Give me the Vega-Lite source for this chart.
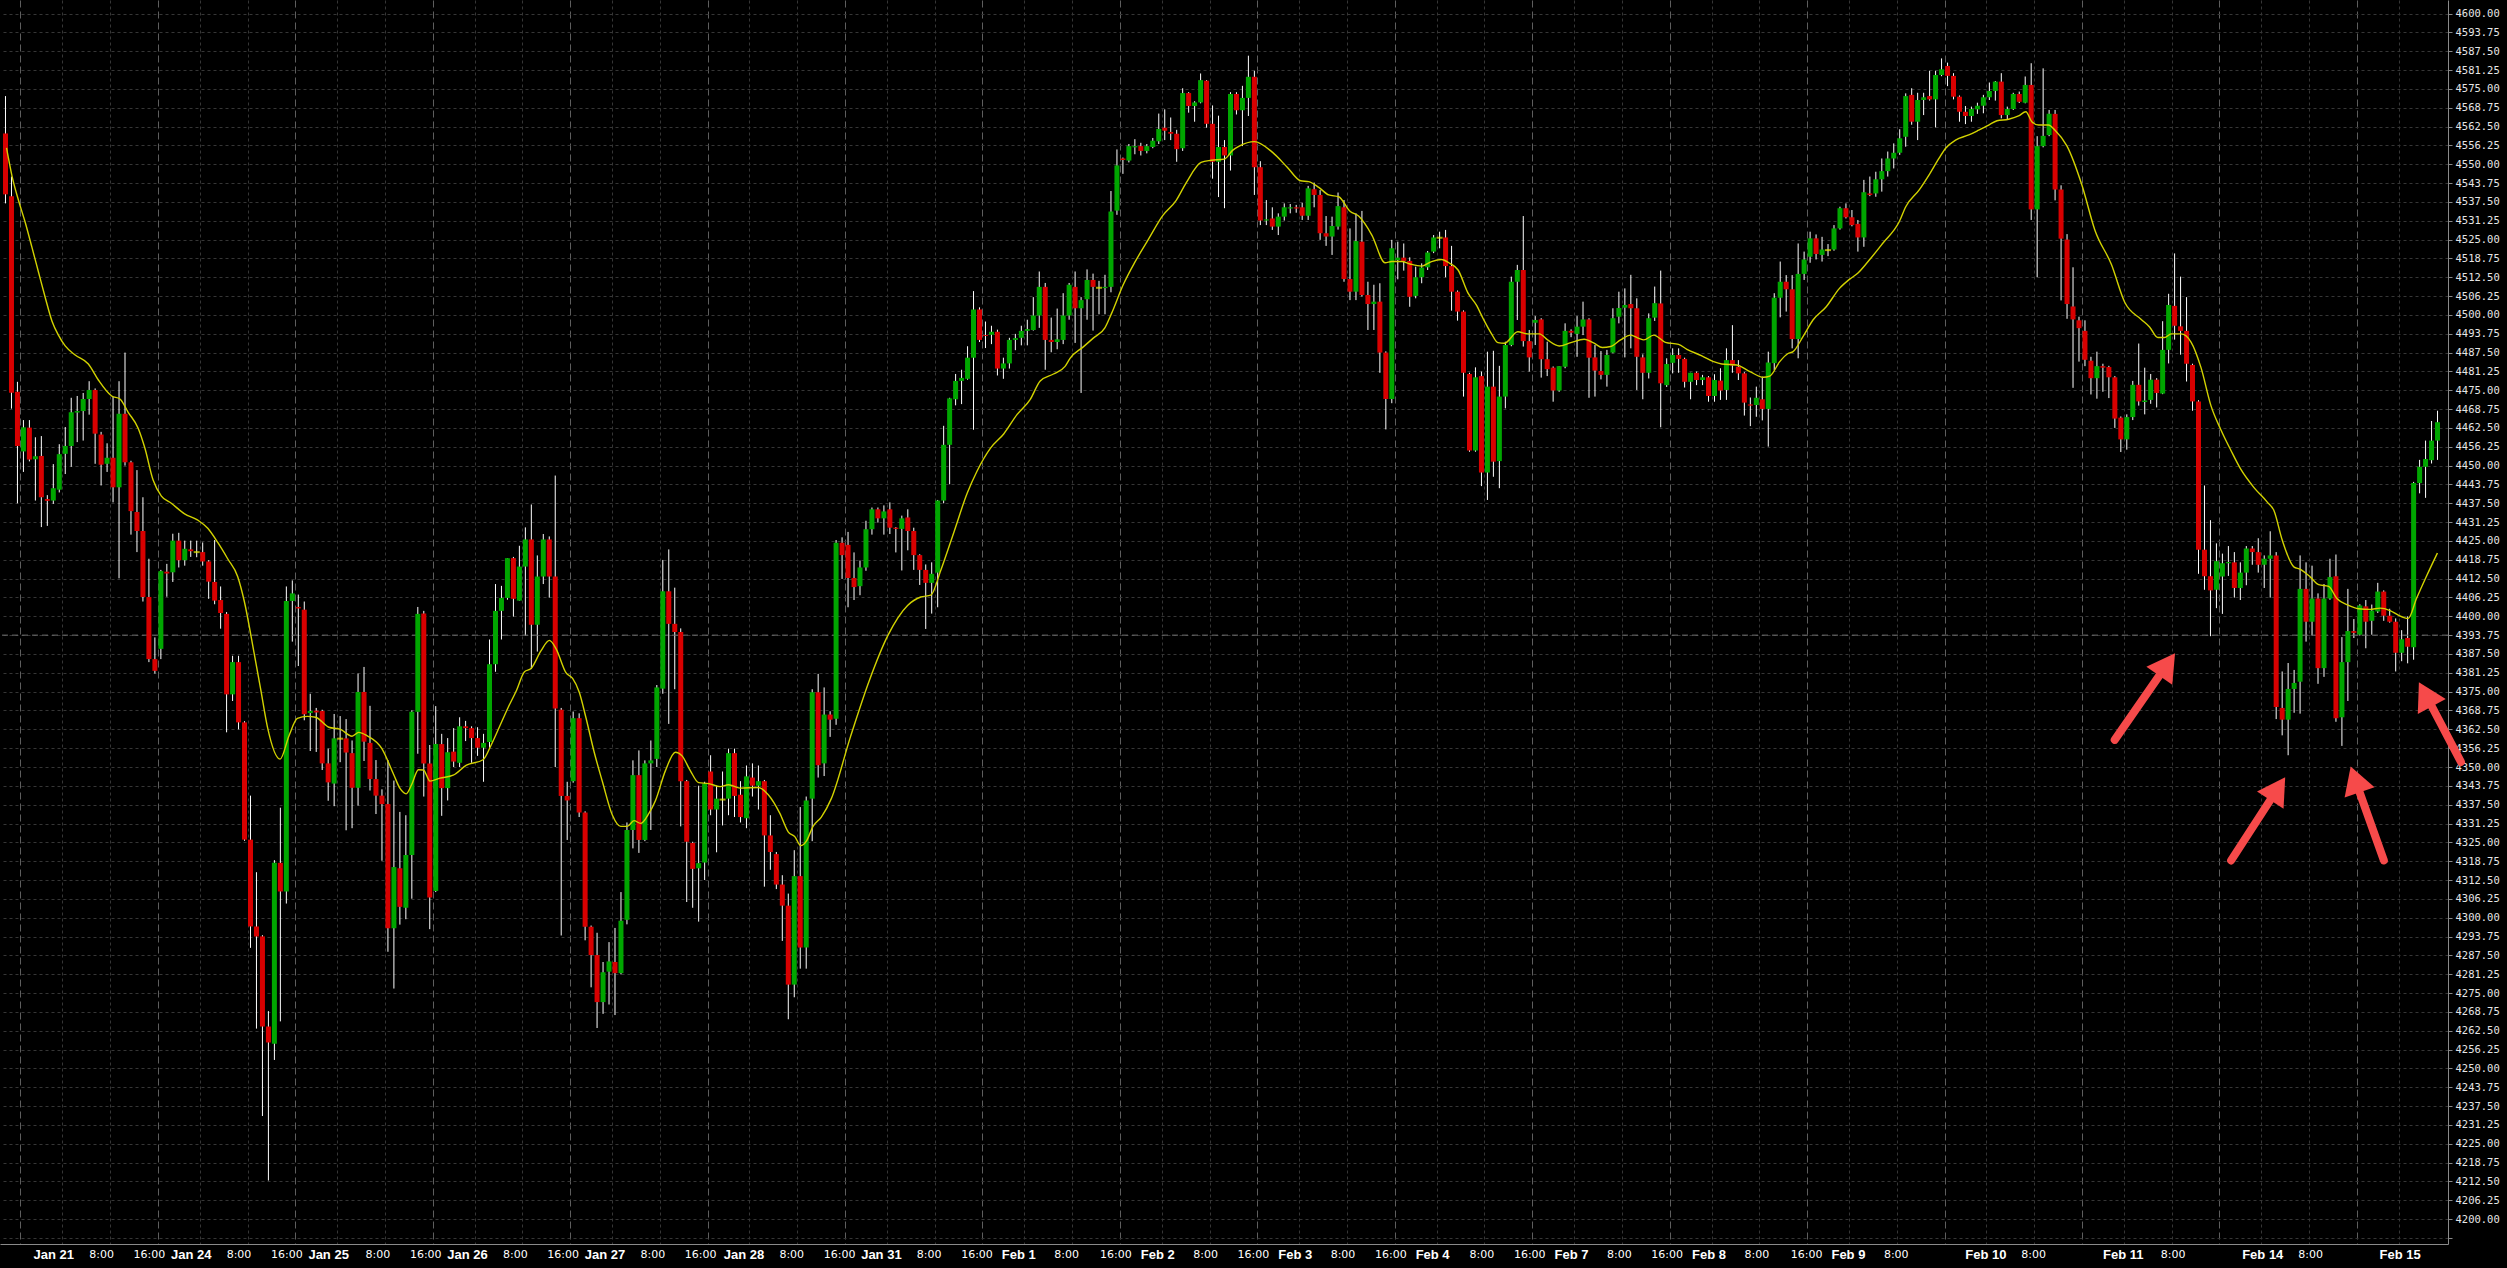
{
"$schema":"https://vega.github.io/schema/vega-lite/v6.json",
"width":2448,"height":1244,
"autosize":{"type":"none"},
"padding":{"left":0,"top":0,"right":59,"bottom":24},
"background":"#000000",
"config":{"view":{"stroke":null}},
"resolve":{"axis":{"x":"independent","y":"independent"}},
"datasets":{
"c":[
{"i":0,"o":4560.2,"h":4572.6,"l":4537.0,"c":4540.0},
{"i":1,"o":4539.4,"h":4545.9,"l":4468.9,"c":4474.2},
{"i":2,"o":4474.5,"h":4477.8,"l":4437.5,"c":4456.5},
{"i":3,"o":4454.7,"h":4465.1,"l":4447.9,"c":4462.7},
{"i":4,"o":4462.6,"h":4465.1,"l":4451.4,"c":4452.0},
{"i":5,"o":4452.1,"h":4459.4,"l":4438.4,"c":4453.1},
{"i":6,"o":4453.2,"h":4459.8,"l":4429.6,"c":4439.5},
{"i":7,"o":4438.9,"h":4440.2,"l":4430.0,"c":4438.3},
{"i":8,"o":4438.4,"h":4450.5,"l":4437.3,"c":4442.5},
{"i":9,"o":4442.0,"h":4457.1,"l":4441.1,"c":4453.8},
{"i":10,"o":4453.9,"h":4462.8,"l":4447.2,"c":4456.5},
{"i":11,"o":4456.5,"h":4472.5,"l":4449.6,"c":4467.7},
{"i":12,"o":4467.6,"h":4473.1,"l":4457.8,"c":4468.1},
{"i":13,"o":4468.1,"h":4474.1,"l":4458.3,"c":4472.1},
{"i":14,"o":4472.1,"h":4478.0,"l":4466.9,"c":4475.1},
{"i":15,"o":4475.1,"h":4475.6,"l":4450.6,"c":4460.6},
{"i":16,"o":4460.3,"h":4461.2,"l":4443.4,"c":4450.3},
{"i":17,"o":4450.6,"h":4457.4,"l":4447.9,"c":4452.6},
{"i":18,"o":4452.6,"h":4472.8,"l":4437.8,"c":4442.8},
{"i":19,"o":4442.8,"h":4478.0,"l":4412.6,"c":4467.2},
{"i":20,"o":4467.2,"h":4487.5,"l":4450.0,"c":4451.1},
{"i":21,"o":4451.1,"h":4451.6,"l":4427.1,"c":4434.9},
{"i":22,"o":4434.6,"h":4448.5,"l":4421.3,"c":4428.3},
{"i":23,"o":4428.3,"h":4439.5,"l":4404.9,"c":4406.4},
{"i":24,"o":4406.4,"h":4419.1,"l":4384.8,"c":4385.8},
{"i":25,"o":4385.8,"h":4393.0,"l":4381.0,"c":4381.9},
{"i":26,"o":4389.2,"h":4415.4,"l":4385.8,"c":4415.0},
{"i":27,"o":4414.8,"h":4417.4,"l":4406.5,"c":4414.2},
{"i":28,"o":4414.6,"h":4427.4,"l":4411.4,"c":4425.1},
{"i":29,"o":4425.1,"h":4427.7,"l":4416.2,"c":4418.6},
{"i":30,"o":4418.6,"h":4425.1,"l":4416.8,"c":4422.4},
{"i":31,"o":4422.2,"h":4425.1,"l":4419.7,"c":4421.6},
{"i":32,"o":4421.3,"h":4425.1,"l":4419.6,"c":4421.3},
{"i":33,"o":4421.3,"h":4424.5,"l":4416.8,"c":4418.2},
{"i":34,"o":4418.2,"h":4418.6,"l":4405.8,"c":4411.5},
{"i":35,"o":4411.4,"h":4425.3,"l":4404.0,"c":4405.2},
{"i":36,"o":4405.4,"h":4409.9,"l":4395.9,"c":4401.1},
{"i":37,"o":4400.8,"h":4401.4,"l":4361.5,"c":4374.1},
{"i":38,"o":4374.1,"h":4386.9,"l":4371.9,"c":4384.8},
{"i":39,"o":4384.8,"h":4386.9,"l":4362.5,"c":4364.8},
{"i":40,"o":4364.8,"h":4365.2,"l":4325.5,"c":4325.9},
{"i":41,"o":4325.9,"h":4340.5,"l":4290.0,"c":4297.1},
{"i":42,"o":4297.1,"h":4315.1,"l":4263.2,"c":4293.8},
{"i":43,"o":4293.8,"h":4294.2,"l":4234.2,"c":4263.9},
{"i":44,"o":4263.9,"h":4269.0,"l":4212.8,"c":4258.6},
{"i":45,"o":4258.2,"h":4319.1,"l":4252.8,"c":4318.2},
{"i":46,"o":4318.2,"h":4336.5,"l":4265.6,"c":4308.7},
{"i":47,"o":4308.7,"h":4409.9,"l":4304.7,"c":4405.1},
{"i":48,"o":4405.1,"h":4411.9,"l":4391.6,"c":4407.6},
{"i":49,"o":4403.1,"h":4407.2,"l":4383.5,"c":4402.6},
{"i":50,"o":4402.2,"h":4404.9,"l":4365.5,"c":4367.5},
{"i":51,"o":4367.9,"h":4374.3,"l":4355.3,"c":4368.6},
{"i":52,"o":4368.7,"h":4369.6,"l":4355.0,"c":4368.1},
{"i":53,"o":4368.6,"h":4369.0,"l":4349.0,"c":4351.2},
{"i":54,"o":4351.2,"h":4356.1,"l":4338.8,"c":4344.9},
{"i":55,"o":4344.5,"h":4367.6,"l":4337.0,"c":4359.5},
{"i":56,"o":4359.4,"h":4366.9,"l":4351.6,"c":4359.4},
{"i":57,"o":4359.5,"h":4365.9,"l":4329.0,"c":4354.8},
{"i":58,"o":4354.6,"h":4358.8,"l":4329.7,"c":4343.1},
{"i":59,"o":4343.1,"h":4381.0,"l":4337.2,"c":4374.9},
{"i":60,"o":4374.9,"h":4383.2,"l":4352.0,"c":4358.4},
{"i":61,"o":4358.0,"h":4370.3,"l":4342.2,"c":4346.0},
{"i":62,"o":4346.0,"h":4352.3,"l":4334.4,"c":4340.5},
{"i":63,"o":4340.5,"h":4342.6,"l":4318.9,"c":4337.7},
{"i":64,"o":4337.7,"h":4352.3,"l":4288.7,"c":4296.5},
{"i":65,"o":4296.5,"h":4345.5,"l":4276.5,"c":4316.8},
{"i":66,"o":4316.4,"h":4335.1,"l":4297.7,"c":4303.6},
{"i":67,"o":4303.3,"h":4334.0,"l":4299.5,"c":4320.8},
{"i":68,"o":4320.8,"h":4368.8,"l":4306.3,"c":4368.3},
{"i":69,"o":4368.3,"h":4403.1,"l":4354.4,"c":4400.8},
{"i":70,"o":4400.9,"h":4401.8,"l":4340.2,"c":4351.2},
{"i":71,"o":4351.2,"h":4357.3,"l":4296.2,"c":4306.7},
{"i":72,"o":4308.9,"h":4370.2,"l":4308.5,"c":4357.6},
{"i":73,"o":4357.6,"h":4361.0,"l":4333.8,"c":4343.0},
{"i":74,"o":4343.0,"h":4359.6,"l":4338.9,"c":4354.9},
{"i":75,"o":4355.1,"h":4362.9,"l":4350.0,"c":4351.8},
{"i":76,"o":4351.4,"h":4366.5,"l":4350.0,"c":4363.5},
{"i":77,"o":4363.5,"h":4365.3,"l":4358.6,"c":4362.9},
{"i":78,"o":4362.9,"h":4363.5,"l":4351.4,"c":4359.6},
{"i":79,"o":4359.6,"h":4363.2,"l":4353.7,"c":4356.4},
{"i":80,"o":4356.4,"h":4361.0,"l":4345.1,"c":4358.0},
{"i":81,"o":4358.3,"h":4392.3,"l":4356.4,"c":4384.1},
{"i":82,"o":4384.1,"h":4410.7,"l":4381.6,"c":4401.8},
{"i":83,"o":4401.8,"h":4410.1,"l":4392.3,"c":4406.1},
{"i":84,"o":4406.1,"h":4419.3,"l":4405.5,"c":4419.3},
{"i":85,"o":4419.3,"h":4419.7,"l":4399.9,"c":4405.8},
{"i":86,"o":4405.2,"h":4423.4,"l":4405.2,"c":4416.5},
{"i":87,"o":4416.5,"h":4429.5,"l":4393.6,"c":4425.5},
{"i":88,"o":4425.5,"h":4437.1,"l":4382.5,"c":4397.2},
{"i":89,"o":4397.2,"h":4420.2,"l":4388.3,"c":4413.2},
{"i":90,"o":4413.2,"h":4427.3,"l":4410.7,"c":4425.5},
{"i":91,"o":4425.5,"h":4426.5,"l":4406.2,"c":4413.2},
{"i":92,"o":4413.2,"h":4446.7,"l":4350.0,"c":4369.4},
{"i":93,"o":4369.0,"h":4369.6,"l":4294.1,"c":4340.4},
{"i":94,"o":4340.4,"h":4345.1,"l":4325.8,"c":4338.9},
{"i":95,"o":4345.3,"h":4368.4,"l":4344.8,"c":4366.2},
{"i":96,"o":4366.2,"h":4367.8,"l":4333.4,"c":4334.9},
{"i":97,"o":4334.9,"h":4335.3,"l":4292.5,"c":4297.0},
{"i":98,"o":4297.0,"h":4297.4,"l":4276.9,"c":4287.6},
{"i":99,"o":4287.6,"h":4295.0,"l":4263.4,"c":4272.0},
{"i":100,"o":4272.0,"h":4285.3,"l":4268.1,"c":4281.9},
{"i":101,"o":4282.1,"h":4291.9,"l":4271.2,"c":4285.5},
{"i":102,"o":4285.3,"h":4296.6,"l":4267.7,"c":4281.6},
{"i":103,"o":4281.6,"h":4308.5,"l":4281.2,"c":4299.0},
{"i":104,"o":4299.3,"h":4331.6,"l":4297.8,"c":4329.1},
{"i":105,"o":4329.1,"h":4352.2,"l":4323.0,"c":4347.3},
{"i":106,"o":4347.3,"h":4355.5,"l":4321.5,"c":4325.8},
{"i":107,"o":4325.8,"h":4352.2,"l":4325.4,"c":4351.2},
{"i":108,"o":4351.2,"h":4358.8,"l":4329.1,"c":4352.2},
{"i":109,"o":4352.7,"h":4377.2,"l":4350.0,"c":4376.4},
{"i":110,"o":4376.0,"h":4418.7,"l":4374.3,"c":4408.3},
{"i":111,"o":4408.3,"h":4422.2,"l":4364.3,"c":4397.5},
{"i":112,"o":4397.5,"h":4409.5,"l":4375.8,"c":4394.8},
{"i":113,"o":4394.8,"h":4396.0,"l":4330.3,"c":4345.3},
{"i":114,"o":4345.3,"h":4345.7,"l":4305.2,"c":4325.2},
{"i":115,"o":4324.8,"h":4325.2,"l":4303.3,"c":4316.2},
{"i":116,"o":4316.4,"h":4343.8,"l":4298.7,"c":4318.1},
{"i":117,"o":4318.3,"h":4345.1,"l":4312.5,"c":4344.5},
{"i":118,"o":4348.5,"h":4353.9,"l":4334.0,"c":4335.9},
{"i":119,"o":4335.9,"h":4343.8,"l":4321.7,"c":4339.5},
{"i":120,"o":4339.2,"h":4348.5,"l":4330.6,"c":4339.2},
{"i":121,"o":4339.5,"h":4356.1,"l":4334.0,"c":4354.6},
{"i":122,"o":4354.6,"h":4356.1,"l":4333.4,"c":4340.4},
{"i":123,"o":4340.8,"h":4345.3,"l":4331.6,"c":4333.4},
{"i":124,"o":4333.0,"h":4350.5,"l":4329.7,"c":4346.9},
{"i":125,"o":4346.5,"h":4351.2,"l":4340.2,"c":4343.8},
{"i":126,"o":4343.8,"h":4350.5,"l":4335.9,"c":4345.3},
{"i":127,"o":4345.3,"h":4345.7,"l":4310.3,"c":4327.3},
{"i":128,"o":4327.3,"h":4334.0,"l":4315.9,"c":4321.8},
{"i":129,"o":4321.1,"h":4321.8,"l":4309.5,"c":4311.0},
{"i":130,"o":4311.0,"h":4314.1,"l":4292.3,"c":4304.0},
{"i":131,"o":4304.0,"h":4308.0,"l":4266.3,"c":4277.8},
{"i":132,"o":4277.8,"h":4322.4,"l":4273.6,"c":4313.8},
{"i":133,"o":4313.8,"h":4336.7,"l":4283.1,"c":4290.1},
{"i":134,"o":4290.1,"h":4340.2,"l":4283.1,"c":4338.9},
{"i":135,"o":4339.5,"h":4375.8,"l":4325.4,"c":4374.8},
{"i":136,"o":4374.8,"h":4380.9,"l":4346.5,"c":4350.6},
{"i":137,"o":4351.2,"h":4376.4,"l":4347.0,"c":4367.4},
{"i":138,"o":4367.4,"h":4368.5,"l":4360.0,"c":4365.7},
{"i":139,"o":4366.0,"h":4425.3,"l":4364.0,"c":4424.4},
{"i":140,"o":4424.4,"h":4426.2,"l":4412.4,"c":4420.3},
{"i":141,"o":4423.7,"h":4428.0,"l":4403.0,"c":4412.7},
{"i":142,"o":4412.7,"h":4421.2,"l":4405.4,"c":4409.7},
{"i":143,"o":4410.0,"h":4418.5,"l":4407.0,"c":4416.2},
{"i":144,"o":4416.2,"h":4431.7,"l":4415.1,"c":4428.9},
{"i":145,"o":4428.9,"h":4436.1,"l":4427.1,"c":4435.5},
{"i":146,"o":4435.5,"h":4436.1,"l":4431.1,"c":4432.5},
{"i":147,"o":4432.5,"h":4436.8,"l":4427.1,"c":4434.8},
{"i":148,"o":4435.5,"h":4437.8,"l":4427.3,"c":4429.4},
{"i":149,"o":4429.4,"h":4429.6,"l":4421.2,"c":4429.0},
{"i":150,"o":4429.0,"h":4433.4,"l":4415.2,"c":4432.5},
{"i":151,"o":4432.8,"h":4435.5,"l":4421.9,"c":4428.3},
{"i":152,"o":4428.3,"h":4429.4,"l":4415.4,"c":4420.3},
{"i":153,"o":4420.3,"h":4420.6,"l":4410.4,"c":4415.4},
{"i":154,"o":4415.4,"h":4417.2,"l":4395.8,"c":4411.1},
{"i":155,"o":4411.1,"h":4417.9,"l":4400.9,"c":4414.1},
{"i":156,"o":4414.5,"h":4438.6,"l":4403.0,"c":4438.4},
{"i":157,"o":4438.4,"h":4463.2,"l":4437.5,"c":4456.9},
{"i":158,"o":4456.9,"h":4472.5,"l":4443.8,"c":4472.3},
{"i":159,"o":4472.0,"h":4480.4,"l":4470.0,"c":4478.1},
{"i":160,"o":4478.1,"h":4481.8,"l":4470.4,"c":4479.1},
{"i":161,"o":4478.8,"h":4489.6,"l":4478.5,"c":4485.8},
{"i":162,"o":4485.8,"h":4507.9,"l":4461.9,"c":4501.8},
{"i":163,"o":4501.8,"h":4502.5,"l":4491.0,"c":4491.7},
{"i":164,"o":4493.3,"h":4497.8,"l":4489.0,"c":4493.0},
{"i":165,"o":4493.4,"h":4496.4,"l":4490.3,"c":4494.4},
{"i":166,"o":4494.4,"h":4495.1,"l":4479.9,"c":4482.2},
{"i":167,"o":4482.2,"h":4485.8,"l":4478.8,"c":4483.9},
{"i":168,"o":4483.9,"h":4492.4,"l":4482.2,"c":4491.7},
{"i":169,"o":4491.7,"h":4493.7,"l":4488.3,"c":4492.3},
{"i":170,"o":4492.4,"h":4496.4,"l":4489.9,"c":4494.7},
{"i":171,"o":4494.7,"h":4498.4,"l":4489.9,"c":4495.3},
{"i":172,"o":4495.0,"h":4505.9,"l":4494.8,"c":4499.8},
{"i":173,"o":4499.8,"h":4514.4,"l":4495.7,"c":4509.3},
{"i":174,"o":4509.3,"h":4510.6,"l":4481.8,"c":4491.7},
{"i":175,"o":4491.7,"h":4499.1,"l":4487.6,"c":4491.0},
{"i":176,"o":4491.0,"h":4502.1,"l":4488.6,"c":4491.9},
{"i":177,"o":4491.7,"h":4507.2,"l":4490.3,"c":4499.8},
{"i":178,"o":4499.8,"h":4510.6,"l":4498.4,"c":4510.0},
{"i":179,"o":4509.3,"h":4514.4,"l":4490.7,"c":4502.2},
{"i":180,"o":4502.2,"h":4505.9,"l":4474.1,"c":4504.9},
{"i":181,"o":4505.2,"h":4515.1,"l":4498.4,"c":4511.6},
{"i":182,"o":4511.6,"h":4513.7,"l":4494.8,"c":4509.3},
{"i":183,"o":4509.0,"h":4511.3,"l":4500.2,"c":4509.0},
{"i":184,"o":4508.9,"h":4513.3,"l":4500.2,"c":4509.3},
{"i":185,"o":4509.3,"h":4541.1,"l":4507.5,"c":4534.3},
{"i":186,"o":4534.6,"h":4554.9,"l":4533.2,"c":4549.6},
{"i":187,"o":4551.9,"h":4552.2,"l":4546.8,"c":4551.4},
{"i":188,"o":4551.2,"h":4556.7,"l":4550.6,"c":4556.0},
{"i":189,"o":4555.6,"h":4558.3,"l":4553.3,"c":4556.0},
{"i":190,"o":4556.0,"h":4557.1,"l":4552.9,"c":4554.4},
{"i":191,"o":4554.4,"h":4556.7,"l":4553.6,"c":4556.0},
{"i":192,"o":4555.7,"h":4558.7,"l":4555.3,"c":4557.8},
{"i":193,"o":4557.6,"h":4566.8,"l":4556.7,"c":4561.7},
{"i":194,"o":4562.1,"h":4568.2,"l":4558.0,"c":4561.1},
{"i":195,"o":4560.7,"h":4565.5,"l":4558.0,"c":4560.1},
{"i":196,"o":4560.1,"h":4561.4,"l":4550.8,"c":4555.0},
{"i":197,"o":4555.3,"h":4575.2,"l":4554.4,"c":4573.6},
{"i":198,"o":4573.6,"h":4573.9,"l":4567.1,"c":4569.3},
{"i":199,"o":4569.3,"h":4570.9,"l":4564.1,"c":4570.5},
{"i":200,"o":4570.5,"h":4580.1,"l":4570.2,"c":4577.9},
{"i":201,"o":4577.7,"h":4577.9,"l":4562.1,"c":4563.4},
{"i":202,"o":4563.4,"h":4569.5,"l":4545.2,"c":4550.8},
{"i":203,"o":4550.8,"h":4566.1,"l":4539.1,"c":4555.7},
{"i":204,"o":4555.7,"h":4558.0,"l":4535.4,"c":4552.9},
{"i":205,"o":4552.9,"h":4573.9,"l":4547.9,"c":4573.3},
{"i":206,"o":4573.3,"h":4573.9,"l":4566.5,"c":4567.9},
{"i":207,"o":4567.9,"h":4576.0,"l":4556.0,"c":4572.0},
{"i":208,"o":4572.0,"h":4586.0,"l":4566.0,"c":4579.0},
{"i":209,"o":4579.0,"h":4581.0,"l":4539.8,"c":4549.0},
{"i":210,"o":4549.0,"h":4551.0,"l":4529.8,"c":4531.3},
{"i":211,"o":4531.3,"h":4538.1,"l":4529.8,"c":4531.7},
{"i":212,"o":4532.0,"h":4535.7,"l":4528.2,"c":4529.3},
{"i":213,"o":4529.3,"h":4533.7,"l":4526.5,"c":4532.6},
{"i":214,"o":4532.6,"h":4537.0,"l":4531.3,"c":4535.7},
{"i":215,"o":4535.3,"h":4536.8,"l":4533.7,"c":4535.7},
{"i":216,"o":4535.7,"h":4536.5,"l":4533.9,"c":4535.3},
{"i":217,"o":4535.7,"h":4537.2,"l":4531.5,"c":4532.9},
{"i":218,"o":4532.9,"h":4542.8,"l":4531.5,"c":4542.0},
{"i":219,"o":4541.7,"h":4543.9,"l":4535.7,"c":4539.8},
{"i":220,"o":4539.8,"h":4541.4,"l":4524.9,"c":4527.1},
{"i":221,"o":4527.1,"h":4532.8,"l":4522.9,"c":4526.0},
{"i":222,"o":4526.0,"h":4532.6,"l":4519.9,"c":4529.5},
{"i":223,"o":4529.3,"h":4540.6,"l":4528.3,"c":4536.1},
{"i":224,"o":4535.7,"h":4538.1,"l":4511.0,"c":4511.9},
{"i":225,"o":4511.9,"h":4528.7,"l":4504.9,"c":4507.7},
{"i":226,"o":4507.7,"h":4533.7,"l":4504.9,"c":4524.5},
{"i":227,"o":4524.3,"h":4534.5,"l":4506.1,"c":4506.6},
{"i":228,"o":4506.6,"h":4511.0,"l":4495.0,"c":4503.6},
{"i":229,"o":4503.6,"h":4510.0,"l":4495.0,"c":4504.4},
{"i":230,"o":4504.4,"h":4510.5,"l":4480.8,"c":4487.5},
{"i":231,"o":4487.5,"h":4487.9,"l":4462.0,"c":4472.1},
{"i":232,"o":4472.1,"h":4524.9,"l":4470.7,"c":4522.1},
{"i":233,"o":4518.2,"h":4524.3,"l":4511.8,"c":4519.0},
{"i":234,"o":4519.0,"h":4523.7,"l":4514.7,"c":4517.9},
{"i":235,"o":4517.9,"h":4519.1,"l":4502.7,"c":4506.0},
{"i":236,"o":4506.3,"h":4516.0,"l":4505.5,"c":4512.5},
{"i":237,"o":4512.5,"h":4517.1,"l":4510.5,"c":4515.7},
{"i":238,"o":4515.8,"h":4521.2,"l":4514.9,"c":4520.7},
{"i":239,"o":4521.0,"h":4526.5,"l":4520.5,"c":4525.7},
{"i":240,"o":4525.6,"h":4527.6,"l":4522.1,"c":4525.6},
{"i":241,"o":4525.7,"h":4528.2,"l":4512.5,"c":4516.2},
{"i":242,"o":4516.2,"h":4522.9,"l":4501.4,"c":4507.7},
{"i":243,"o":4507.7,"h":4508.1,"l":4498.1,"c":4501.1},
{"i":244,"o":4501.1,"h":4501.5,"l":4472.9,"c":4480.8},
{"i":245,"o":4480.4,"h":4480.8,"l":4454.6,"c":4455.0},
{"i":246,"o":4455.0,"h":4482.6,"l":4454.6,"c":4479.3},
{"i":247,"o":4479.7,"h":4481.2,"l":4443.2,"c":4447.7},
{"i":248,"o":4447.7,"h":4487.8,"l":4438.6,"c":4476.2},
{"i":249,"o":4476.2,"h":4488.1,"l":4446.3,"c":4451.3},
{"i":250,"o":4451.5,"h":4483.1,"l":4442.5,"c":4472.9},
{"i":251,"o":4472.9,"h":4491.1,"l":4469.0,"c":4490.0},
{"i":252,"o":4490.0,"h":4512.7,"l":4489.6,"c":4511.0},
{"i":253,"o":4511.0,"h":4516.6,"l":4498.3,"c":4514.9},
{"i":254,"o":4514.9,"h":4532.8,"l":4489.5,"c":4491.3},
{"i":255,"o":4491.3,"h":4495.0,"l":4481.2,"c":4485.9},
{"i":256,"o":4497.4,"h":4499.6,"l":4490.0,"c":4498.3},
{"i":257,"o":4498.5,"h":4498.9,"l":4479.2,"c":4485.3},
{"i":258,"o":4485.3,"h":4491.1,"l":4479.7,"c":4482.0},
{"i":259,"o":4482.5,"h":4482.9,"l":4471.2,"c":4474.9},
{"i":260,"o":4474.9,"h":4483.0,"l":4474.5,"c":4483.0},
{"i":261,"o":4482.8,"h":4497.2,"l":4482.3,"c":4494.7},
{"i":262,"o":4494.7,"h":4495.2,"l":4492.6,"c":4494.1},
{"i":263,"o":4493.7,"h":4499.6,"l":4486.1,"c":4496.1},
{"i":264,"o":4496.1,"h":4504.4,"l":4493.3,"c":4498.5},
{"i":265,"o":4498.5,"h":4498.9,"l":4472.5,"c":4485.8},
{"i":266,"o":4485.9,"h":4490.0,"l":4472.9,"c":4481.5},
{"i":267,"o":4481.4,"h":4488.0,"l":4478.6,"c":4480.1},
{"i":268,"o":4480.1,"h":4488.4,"l":4476.2,"c":4486.7},
{"i":269,"o":4487.5,"h":4502.2,"l":4487.3,"c":4498.9},
{"i":270,"o":4499.4,"h":4507.7,"l":4497.2,"c":4502.3},
{"i":271,"o":4502.4,"h":4508.8,"l":4485.9,"c":4503.3},
{"i":272,"o":4503.6,"h":4513.3,"l":4488.9,"c":4502.2},
{"i":273,"o":4502.2,"h":4505.5,"l":4475.1,"c":4486.1},
{"i":274,"o":4485.9,"h":4486.9,"l":4472.0,"c":4480.8},
{"i":275,"o":4480.8,"h":4500.5,"l":4478.9,"c":4498.9},
{"i":276,"o":4499.1,"h":4509.4,"l":4498.0,"c":4503.9},
{"i":277,"o":4503.8,"h":4514.7,"l":4462.7,"c":4477.3},
{"i":278,"o":4476.7,"h":4485.6,"l":4476.1,"c":4483.7},
{"i":279,"o":4484.1,"h":4488.9,"l":4480.6,"c":4486.7},
{"i":280,"o":4486.7,"h":4488.9,"l":4480.8,"c":4485.4},
{"i":281,"o":4485.4,"h":4485.8,"l":4475.9,"c":4477.8},
{"i":282,"o":4477.8,"h":4480.8,"l":4472.0,"c":4480.8},
{"i":283,"o":4480.8,"h":4481.2,"l":4476.7,"c":4478.4},
{"i":284,"o":4478.4,"h":4480.1,"l":4476.7,"c":4479.3},
{"i":285,"o":4479.3,"h":4479.7,"l":4471.2,"c":4473.1},
{"i":286,"o":4473.1,"h":4480.3,"l":4471.2,"c":4478.4},
{"i":287,"o":4478.2,"h":4482.3,"l":4471.8,"c":4474.9},
{"i":288,"o":4475.1,"h":4488.9,"l":4471.8,"c":4485.0},
{"i":289,"o":4485.0,"h":4496.6,"l":4480.8,"c":4483.2},
{"i":290,"o":4482.8,"h":4485.0,"l":4478.4,"c":4480.6},
{"i":291,"o":4480.6,"h":4481.0,"l":4466.6,"c":4470.9},
{"i":292,"o":4470.3,"h":4472.6,"l":4463.1,"c":4469.9},
{"i":293,"o":4470.1,"h":4476.2,"l":4466.2,"c":4472.5},
{"i":294,"o":4472.0,"h":4479.5,"l":4465.0,"c":4468.8},
{"i":295,"o":4468.8,"h":4487.8,"l":4456.3,"c":4484.2},
{"i":296,"o":4484.0,"h":4507.2,"l":4481.7,"c":4505.7},
{"i":297,"o":4505.7,"h":4517.7,"l":4499.2,"c":4511.0},
{"i":298,"o":4511.0,"h":4513.2,"l":4501.1,"c":4508.5},
{"i":299,"o":4508.5,"h":4513.2,"l":4488.9,"c":4492.0},
{"i":300,"o":4492.0,"h":4523.7,"l":4485.6,"c":4513.6},
{"i":301,"o":4513.6,"h":4521.0,"l":4511.6,"c":4518.4},
{"i":302,"o":4519.3,"h":4527.6,"l":4517.3,"c":4525.4},
{"i":303,"o":4525.4,"h":4526.7,"l":4518.4,"c":4520.2},
{"i":304,"o":4519.9,"h":4525.9,"l":4517.7,"c":4521.7},
{"i":305,"o":4521.5,"h":4523.5,"l":4519.5,"c":4521.5},
{"i":306,"o":4521.7,"h":4529.8,"l":4521.3,"c":4528.7},
{"i":307,"o":4528.7,"h":4535.9,"l":4528.3,"c":4535.4},
{"i":308,"o":4535.4,"h":4537.0,"l":4532.0,"c":4532.4},
{"i":309,"o":4532.4,"h":4534.8,"l":4529.4,"c":4529.8},
{"i":310,"o":4530.2,"h":4531.5,"l":4521.0,"c":4525.7},
{"i":311,"o":4525.7,"h":4544.8,"l":4522.6,"c":4540.7},
{"i":312,"o":4540.3,"h":4545.9,"l":4539.4,"c":4539.8},
{"i":313,"o":4540.3,"h":4547.5,"l":4539.2,"c":4545.0},
{"i":314,"o":4545.0,"h":4551.9,"l":4540.9,"c":4547.7},
{"i":315,"o":4547.7,"h":4554.2,"l":4545.9,"c":4551.9},
{"i":316,"o":4551.9,"h":4556.9,"l":4548.6,"c":4553.8},
{"i":317,"o":4553.8,"h":4561.6,"l":4553.1,"c":4558.6},
{"i":318,"o":4559.1,"h":4573.5,"l":4555.8,"c":4572.6},
{"i":319,"o":4573.0,"h":4575.2,"l":4563.1,"c":4564.1},
{"i":320,"o":4564.1,"h":4573.7,"l":4558.0,"c":4571.3},
{"i":321,"o":4571.3,"h":4573.7,"l":4566.3,"c":4572.2},
{"i":322,"o":4572.6,"h":4581.0,"l":4571.1,"c":4571.5},
{"i":323,"o":4571.5,"h":4581.0,"l":4562.2,"c":4579.6},
{"i":324,"o":4579.6,"h":4585.1,"l":4579.2,"c":4581.5},
{"i":325,"o":4582.6,"h":4583.7,"l":4575.9,"c":4579.3},
{"i":326,"o":4579.3,"h":4580.2,"l":4571.5,"c":4572.4},
{"i":327,"o":4572.4,"h":4572.8,"l":4564.1,"c":4567.4},
{"i":328,"o":4567.4,"h":4569.3,"l":4563.3,"c":4566.0},
{"i":329,"o":4566.0,"h":4569.1,"l":4564.1,"c":4568.3},
{"i":330,"o":4568.2,"h":4570.4,"l":4566.7,"c":4569.4},
{"i":331,"o":4569.4,"h":4573.0,"l":4566.9,"c":4572.2},
{"i":332,"o":4572.2,"h":4577.1,"l":4571.3,"c":4574.3},
{"i":333,"o":4574.3,"h":4577.6,"l":4571.1,"c":4577.4},
{"i":334,"o":4577.4,"h":4580.2,"l":4565.2,"c":4566.3},
{"i":335,"o":4566.3,"h":4569.1,"l":4564.7,"c":4568.3},
{"i":336,"o":4568.3,"h":4573.7,"l":4568.0,"c":4573.3},
{"i":337,"o":4573.3,"h":4574.1,"l":4570.3,"c":4570.7},
{"i":338,"o":4570.4,"h":4579.1,"l":4570.2,"c":4576.3},
{"i":339,"o":4576.3,"h":4583.5,"l":4531.5,"c":4535.0},
{"i":340,"o":4535.0,"h":4559.3,"l":4512.5,"c":4556.0},
{"i":341,"o":4556.0,"h":4581.8,"l":4555.6,"c":4559.4},
{"i":342,"o":4559.7,"h":4568.0,"l":4559.3,"c":4566.7},
{"i":343,"o":4566.7,"h":4568.0,"l":4538.0,"c":4541.6},
{"i":344,"o":4541.6,"h":4543.0,"l":4504.8,"c":4525.3},
{"i":345,"o":4525.0,"h":4526.8,"l":4498.7,"c":4503.6},
{"i":346,"o":4502.8,"h":4515.8,"l":4475.8,"c":4498.5},
{"i":347,"o":4498.2,"h":4499.4,"l":4484.5,"c":4495.6},
{"i":348,"o":4494.7,"h":4498.2,"l":4483.0,"c":4485.1},
{"i":349,"o":4484.8,"h":4486.1,"l":4473.6,"c":4479.0},
{"i":350,"o":4479.0,"h":4487.8,"l":4472.2,"c":4483.0},
{"i":351,"o":4483.0,"h":4483.8,"l":4474.5,"c":4482.5},
{"i":352,"o":4482.7,"h":4483.1,"l":4472.4,"c":4479.3},
{"i":353,"o":4479.3,"h":4479.7,"l":4462.5,"c":4465.6},
{"i":354,"o":4465.9,"h":4466.3,"l":4454.5,"c":4458.7},
{"i":355,"o":4458.7,"h":4467.0,"l":4455.3,"c":4466.1},
{"i":356,"o":4466.1,"h":4478.1,"l":4465.1,"c":4476.8},
{"i":357,"o":4476.8,"h":4490.5,"l":4469.9,"c":4471.3},
{"i":358,"o":4471.1,"h":4482.5,"l":4467.0,"c":4471.6},
{"i":359,"o":4471.8,"h":4480.4,"l":4470.5,"c":4478.5},
{"i":360,"o":4478.5,"h":4479.0,"l":4469.3,"c":4474.1},
{"i":361,"o":4473.9,"h":4497.9,"l":4473.7,"c":4488.4},
{"i":362,"o":4488.4,"h":4507.0,"l":4483.9,"c":4503.3},
{"i":363,"o":4503.0,"h":4520.4,"l":4491.8,"c":4496.4},
{"i":364,"o":4496.2,"h":4512.7,"l":4486.8,"c":4494.7},
{"i":365,"o":4494.7,"h":4505.9,"l":4477.9,"c":4483.8},
{"i":366,"o":4483.4,"h":4483.8,"l":4468.2,"c":4471.3},
{"i":367,"o":4471.3,"h":4471.7,"l":4414.1,"c":4422.1},
{"i":368,"o":4422.1,"h":4443.4,"l":4408.8,"c":4413.3},
{"i":369,"o":4413.3,"h":4431.9,"l":4393.4,"c":4408.6},
{"i":370,"o":4408.8,"h":4424.2,"l":4402.7,"c":4418.3},
{"i":371,"o":4413.2,"h":4420.8,"l":4400.8,"c":4417.6},
{"i":372,"o":4417.6,"h":4423.3,"l":4413.4,"c":4418.0},
{"i":373,"o":4417.9,"h":4421.3,"l":4406.2,"c":4409.4},
{"i":374,"o":4409.4,"h":4417.9,"l":4405.4,"c":4414.5},
{"i":375,"o":4414.5,"h":4423.3,"l":4410.3,"c":4422.5},
{"i":376,"o":4422.5,"h":4423.3,"l":4417.1,"c":4421.3},
{"i":377,"o":4421.3,"h":4425.9,"l":4414.5,"c":4417.1},
{"i":378,"o":4417.1,"h":4420.2,"l":4409.4,"c":4419.1},
{"i":379,"o":4419.1,"h":4428.2,"l":4406.2,"c":4420.2},
{"i":380,"o":4420.2,"h":4421.3,"l":4365.9,"c":4369.9},
{"i":381,"o":4369.6,"h":4381.7,"l":4360.5,"c":4365.7},
{"i":382,"o":4365.7,"h":4384.5,"l":4353.9,"c":4375.9},
{"i":383,"o":4375.9,"h":4382.2,"l":4368.0,"c":4377.9},
{"i":384,"o":4378.3,"h":4420.2,"l":4367.7,"c":4409.1},
{"i":385,"o":4409.1,"h":4417.9,"l":4391.6,"c":4398.2},
{"i":386,"o":4398.2,"h":4416.8,"l":4393.6,"c":4405.9},
{"i":387,"o":4405.9,"h":4407.6,"l":4377.6,"c":4382.8},
{"i":388,"o":4382.8,"h":4410.7,"l":4379.9,"c":4405.9},
{"i":389,"o":4405.9,"h":4419.1,"l":4405.5,"c":4413.0},
{"i":390,"o":4413.3,"h":4420.5,"l":4365.0,"c":4366.2},
{"i":391,"o":4366.5,"h":4393.1,"l":4357.0,"c":4384.8},
{"i":392,"o":4384.8,"h":4409.1,"l":4371.9,"c":4395.1},
{"i":393,"o":4395.1,"h":4399.1,"l":4392.8,"c":4394.5},
{"i":394,"o":4393.9,"h":4404.0,"l":4393.6,"c":4403.6},
{"i":395,"o":4403.3,"h":4405.4,"l":4389.4,"c":4398.2},
{"i":396,"o":4398.5,"h":4403.9,"l":4393.9,"c":4401.9},
{"i":397,"o":4401.6,"h":4411.1,"l":4401.1,"c":4408.2},
{"i":398,"o":4408.2,"h":4408.6,"l":4398.5,"c":4400.2},
{"i":399,"o":4400.2,"h":4402.5,"l":4397.9,"c":4398.2},
{"i":400,"o":4398.2,"h":4399.3,"l":4381.7,"c":4387.9},
{"i":401,"o":4387.9,"h":4395.4,"l":4385.1,"c":4392.4},
{"i":402,"o":4392.8,"h":4400.0,"l":4384.4,"c":4389.9},
{"i":403,"o":4389.7,"h":4444.6,"l":4385.6,"c":4444.2},
{"i":404,"o":4444.2,"h":4451.9,"l":4440.8,"c":4449.6},
{"i":405,"o":4449.6,"h":4458.3,"l":4439.3,"c":4452.2},
{"i":406,"o":4451.8,"h":4464.8,"l":4450.7,"c":4458.3},
{"i":407,"o":4458.3,"h":4468.2,"l":4451.9,"c":4464.4}
],
"ma":[
{"i":0.17,"v":4555.4},{"i":1.11,"v":4545.9},{"i":2.22,"v":4537.7},{"i":3.33,"v":4530.5},{"i":4.44,"v":4522.3},{"i":5.55,"v":4514.0},{"i":6.66,"v":4505.7},{"i":7.77,"v":4498.0},{"i":8.88,"v":4493.2},{"i":9.99,"v":4489.7},{"i":11.66,"v":4486.7},{"i":13.87,"v":4483.7},{"i":15.54,"v":4478.4},{"i":17.76,"v":4473.1},{"i":19.15,"v":4472.1},{"i":20.53,"v":4467.7},{"i":22.2,"v":4462.4},{"i":23.31,"v":4455.9},{"i":24.7,"v":4445.2},{"i":26.09,"v":4439.9},{"i":27.75,"v":4437.5},{"i":29.97,"v":4434.0},{"i":32.19,"v":4431.9},{"i":33.85,"v":4429.2},{"i":35.52,"v":4424.5},{"i":37.18,"v":4419.1},{"i":38.85,"v":4413.2},{"i":39.96,"v":4405.0},{"i":41.63,"v":4387.5},{"i":42.74,"v":4375.4},{"i":43.84,"v":4363.2},{"i":45.95,"v":4352.6},{"i":47.45,"v":4360.4},{"i":48.84,"v":4366.1},{"i":50.5,"v":4366.8},{"i":51.9,"v":4366.5},{"i":54.11,"v":4363.2},{"i":56.06,"v":4362.5},{"i":57.99,"v":4360.2},{"i":59.11,"v":4361.5},{"i":60.49,"v":4360.4},{"i":62.99,"v":4356.1},{"i":64.94,"v":4347.6},{"i":66.05,"v":4342.8},{"i":67.05,"v":4341.1},{"i":67.98,"v":4344.2},{"i":69.1,"v":4349.1},{"i":69.93,"v":4349.0},{"i":71.04,"v":4345.3},{"i":72.71,"v":4346.3},{"i":74.93,"v":4347.3},{"i":77.14,"v":4350.6},{"i":79.92,"v":4352.4},{"i":81.3,"v":4357.4},{"i":82.7,"v":4363.5},{"i":84.08,"v":4369.6},{"i":85.47,"v":4375.2},{"i":86.86,"v":4381.6},{"i":87.96,"v":4382.7},{"i":89.63,"v":4388.6},{"i":91.02,"v":4392.0},{"i":92.12,"v":4389.3},{"i":93.79,"v":4381.3},{"i":94.91,"v":4379.4},{"i":96.02,"v":4374.8},{"i":97.12,"v":4366.5},{"i":98.52,"v":4354.9},{"i":99.9,"v":4345.1},{"i":101.57,"v":4334.0},{"i":102.95,"v":4330.3},{"i":104.06,"v":4330.3},{"i":105.18,"v":4332.2},{"i":106.28,"v":4331.3},{"i":107.67,"v":4334.6},{"i":108.78,"v":4338.9},{"i":110.44,"v":4348.8},{"i":112.11,"v":4354.9},{"i":113.22,"v":4353.7},{"i":114.6,"v":4348.8},{"i":116,"v":4344.8},{"i":117.67,"v":4344.5},{"i":119.6,"v":4343.5},{"i":121,"v":4344.1},{"i":122.93,"v":4343.0},{"i":125.99,"v":4343.2},{"i":127.65,"v":4340.8},{"i":129.59,"v":4334.6},{"i":130.98,"v":4328.5},{"i":132.09,"v":4326.9},{"i":133.09,"v":4323.9},{"i":134.03,"v":4325.4},{"i":135.14,"v":4330.3},{"i":136.53,"v":4333.4},{"i":138.2,"v":4339.5},{"i":141.4,"v":4360.0},{"i":144.58,"v":4378.8},{"i":147.63,"v":4393.5},{"i":150.96,"v":4403.6},{"i":153.18,"v":4406.4},{"i":154.85,"v":4407.0},{"i":156.51,"v":4415.2},{"i":158.73,"v":4428.0},{"i":160.95,"v":4440.9},{"i":162.62,"v":4448.3},{"i":164.84,"v":4455.8},{"i":167.05,"v":4460.5},{"i":169.27,"v":4466.9},{"i":171.5,"v":4472.0},{"i":173.16,"v":4478.1},{"i":175.38,"v":4480.4},{"i":177.32,"v":4482.9},{"i":178.15,"v":4485.6},{"i":180.37,"v":4489.4},{"i":182.04,"v":4492.3},{"i":183.98,"v":4495.7},{"i":185.1,"v":4500.5},{"i":187.03,"v":4509.9},{"i":188.98,"v":4517.4},{"i":191.19,"v":4524.8},{"i":193.69,"v":4533.0},{"i":195.92,"v":4538.0},{"i":197.58,"v":4543.8},{"i":200.08,"v":4550.6},{"i":201.75,"v":4551.3},{"i":203.96,"v":4551.7},{"i":205.35,"v":4554.6},{"i":206.46,"v":4556.0},{"i":209,"v":4557.5},{"i":212,"v":4554.0},{"i":214.5,"v":4549.0},{"i":216.73,"v":4544.5},{"i":218.11,"v":4544.2},{"i":219.78,"v":4542.3},{"i":221.45,"v":4539.8},{"i":223.11,"v":4539.2},{"i":225.05,"v":4534.3},{"i":226.44,"v":4532.8},{"i":228.66,"v":4526.5},{"i":230.88,"v":4517.3},{"i":231.99,"v":4517.7},{"i":233.65,"v":4517.7},{"i":235.04,"v":4516.9},{"i":236.98,"v":4516.2},{"i":238.64,"v":4517.7},{"i":240.31,"v":4518.4},{"i":241.7,"v":4517.1},{"i":243.09,"v":4514.9},{"i":244.76,"v":4507.2},{"i":246.14,"v":4503.3},{"i":247.25,"v":4498.9},{"i":248.64,"v":4493.9},{"i":249.75,"v":4490.8},{"i":250.86,"v":4490.6},{"i":253.08,"v":4494.4},{"i":254.75,"v":4493.7},{"i":256.69,"v":4493.7},{"i":258.07,"v":4491.7},{"i":260.02,"v":4489.7},{"i":261.96,"v":4490.8},{"i":264.18,"v":4491.9},{"i":265.85,"v":4490.6},{"i":267.23,"v":4489.2},{"i":268.62,"v":4489.5},{"i":270.28,"v":4491.7},{"i":271.95,"v":4493.3},{"i":273.34,"v":4492.2},{"i":274.17,"v":4491.7},{"i":275.84,"v":4493.3},{"i":277.78,"v":4490.9},{"i":280,"v":4490.2},{"i":281.39,"v":4488.6},{"i":283.88,"v":4486.4},{"i":285.83,"v":4484.5},{"i":287.21,"v":4483.7},{"i":289.71,"v":4483.4},{"i":291.93,"v":4481.2},{"i":294.15,"v":4479.3},{"i":295.26,"v":4479.7},{"i":296.92,"v":4484.5},{"i":298.31,"v":4487.2},{"i":299.15,"v":4487.8},{"i":300.81,"v":4492.8},{"i":302.48,"v":4498.3},{"i":304.7,"v":4502.7},{"i":306.92,"v":4508.8},{"i":308.58,"v":4511.8},{"i":309.97,"v":4513.8},{"i":311.91,"v":4518.2},{"i":314.13,"v":4523.7},{"i":316.91,"v":4530.9},{"i":318.01,"v":4535.9},{"i":320.23,"v":4541.4},{"i":321.89,"v":4546.4},{"i":323.56,"v":4551.9},{"i":324.68,"v":4555.3},{"i":326.34,"v":4558.0},{"i":328.56,"v":4559.7},{"i":330.22,"v":4561.3},{"i":331.89,"v":4563.0},{"i":333.28,"v":4564.4},{"i":335.22,"v":4564.9},{"i":336.88,"v":4566.0},{"i":338.11,"v":4567.4},{"i":339.11,"v":4564.1},{"i":340.22,"v":4563.0},{"i":341.88,"v":4563.0},{"i":342.99,"v":4561.3},{"i":345,"v":4556.0},{"i":347.5,"v":4543.0},{"i":349.65,"v":4528.2},{"i":352.43,"v":4516.7},{"i":354.65,"v":4504.2},{"i":357.42,"v":4498.5},{"i":358.81,"v":4496.0},{"i":360.2,"v":4492.5},{"i":361.31,"v":4492.5},{"i":362.42,"v":4493.7},{"i":364.09,"v":4493.7},{"i":365.75,"v":4491.0},{"i":367.42,"v":4482.5},{"i":369.08,"v":4469.9},{"i":370.74,"v":4461.9},{"i":372.41,"v":4455.1},{"i":374.07,"v":4448.8},{"i":376.29,"v":4442.7},{"i":378.51,"v":4437.9},{"i":379.62,"v":4435.1},{"i":381.01,"v":4425.3},{"i":382.95,"v":4416.4},{"i":384.06,"v":4415.6},{"i":385.73,"v":4413.0},{"i":387.11,"v":4410.5},{"i":388.78,"v":4409.9},{"i":390.16,"v":4405.9},{"i":392.11,"v":4403.6},{"i":393.77,"v":4402.5},{"i":395.71,"v":4402.3},{"i":397.38,"v":4402.7},{"i":399.05,"v":4401.9},{"i":400.43,"v":4400.4},{"i":402.1,"v":4399.3},{"i":403.48,"v":4405.9},{"i":405.15,"v":4413.3},{"i":406.98,"v":4421.0}
],
"lv":[{"p":4393.75}],
"ar":[
{"i1":352.98,"p1":4359.0,"i2":360.99,"p2":4381.9},
{"i1":372.46,"p1":4319.0,"i2":379.52,"p2":4340.6},
{"i1":398.02,"p1":4319.0,"i2":393.64,"p2":4343.4},
{"i1":410.92,"p1":4351.7,"i2":405.6,"p2":4371.8}
]
},
"layer":[
{"data":{"name":"c"},"mark":{"type":"rule","color":"#ffffff","strokeWidth":1},
 "encoding":{
  "x":{"field":"i","type":"quantitative","scale":{"domain":[-0.08333,407.91667],"nice":false,"zero":false},
   "axis":{"orient":"bottom","title":null,"values":[2.5,9.5,17.5,25.5,32.5,40.5,48.5,55.5,63.5,71.5,78.5,86.5,94.5,101.5,109.5,117.5,124.5,132.5,140.5,147.5,155.5,163.5,170.5,178.5,186.5,193.5,201.5,209.5,216.5,224.5,232.5,239.5,247.5,255.5,262.5,270.5,278.5,285.5,293.5,301.5,308.5,316.5,324.5,331.5,339.5,347.5,354.5,362.5,370.5,377.5,385.5,393.5,400.5],
    "labelExpr":"(datum.value - 9.5) % 23 == 0 ? ['Jan 21','Jan 24','Jan 25','Jan 26','Jan 27','Jan 28','Jan 31','Feb 1','Feb 2','Feb 3','Feb 4','Feb 7','Feb 8','Feb 9','Feb 10','Feb 11','Feb 14','Feb 15'][(datum.value - 9.5) / 23] : ((datum.value - 9.5) % 23 == 8 ? '8:00' : ((datum.value > 9 && datum.value < 320) ? '16:00' : ''))",
    "labelFont":{"condition":{"test":"(datum.value - 9.5) % 23 == 0","value":"Liberation Sans"},"value":"DejaVu Sans"},
    "labelFontWeight":{"condition":{"test":"(datum.value - 9.5) % 23 == 0","value":"bold"},"value":"normal"},
    "labelFontSize":{"condition":{"test":"(datum.value - 9.5) % 23 == 0","value":13},"value":11},
    "labelOffset":{"condition":[{"test":"datum.value < 60","value":-9},{"test":"datum.value < 120","value":-7.5},{"test":"datum.value < 180","value":-6},{"test":"datum.value < 240","value":-4.5},{"test":"datum.value < 300","value":-3},{"test":"datum.value < 360","value":-1}],"value":1},
    "labelColor":"#ffffff","labelPadding":4,"labelOverlap":false,"labelBound":false,"labelFlush":false,
    "ticks":false,"domainColor":"#8a8a8a","domainWidth":1,
    "grid":true,"gridWidth":1,
    "gridColor":{"condition":{"test":"(datum.value - 9.5) % 23 == 16 || datum.value < 9","value":"#5e5e5e"},"value":"#363636"},
    "gridDash":{"condition":{"test":"(datum.value - 9.5) % 23 == 16 || datum.value < 9","value":[7,4]},"value":[3,3]}}},
  "y":{"field":"l","type":"quantitative","scale":{"domain":[4191.74,4604.48],"nice":false,"zero":false},
   "axis":{"orient":"right","title":null,"values":[4193.75,4200,4206.25,4212.5,4218.75,4225,4231.25,4237.5,4243.75,4250,4256.25,4262.5,4268.75,4275,4281.25,4287.5,4293.75,4300,4306.25,4312.5,4318.75,4325,4331.25,4337.5,4343.75,4350,4356.25,4362.5,4368.75,4375,4381.25,4387.5,4393.75,4400,4406.25,4412.5,4418.75,4425,4431.25,4437.5,4443.75,4450,4456.25,4462.5,4468.75,4475,4481.25,4487.5,4493.75,4500,4506.25,4512.5,4518.75,4525,4531.25,4537.5,4543.75,4550,4556.25,4562.5,4568.75,4575,4581.25,4587.5,4593.75,4600],
    "format":".2f","labelExpr":"datum.value < 4195 ? '' : datum.label",
    "labelFont":"DejaVu Sans Mono","labelFontSize":10.5,"labelColor":"#e6e6e6","labelPadding":3,"labelOverlap":false,"labelBound":false,"labelFlush":false,
    "ticks":true,"tickSize":4,"tickColor":"#8a8a8a","domainColor":"#8a8a8a","domainWidth":1,
    "grid":true,"gridColor":"#363636","gridDash":[3,3],"gridWidth":1}},
  "y2":{"field":"h"}}},
{"data":{"name":"lv"},"mark":{"type":"rule","color":"#707070","strokeWidth":1,"strokeDash":[6,4]},
 "encoding":{"y":{"field":"p","type":"quantitative","axis":null}}},
{"data":{"name":"c"},"mark":{"type":"bar","width":5},
 "encoding":{
  "x":{"field":"i","type":"quantitative","axis":null},
  "y":{"field":"o","type":"quantitative","axis":null},
  "y2":{"field":"c"},
  "color":{"condition":[{"test":"datum.c > datum.o","value":"#00a600"},{"test":"datum.c < datum.o","value":"#d80000"}],"value":"#e8e800"}}},
{"data":{"name":"c"},"transform":[{"filter":"datum.o == datum.c"}],"mark":{"type":"tick","orient":"horizontal","thickness":2,"size":6,"color":"#e8e800"},
 "encoding":{
  "x":{"field":"i","type":"quantitative","axis":null},
  "y":{"field":"o","type":"quantitative","axis":null}}},
{"data":{"name":"ma"},"mark":{"type":"line","color":"#d2d200","strokeWidth":1.4,"interpolate":"monotone"},
 "encoding":{
  "x":{"field":"i","type":"quantitative","axis":null},
  "y":{"field":"v","type":"quantitative","axis":null}}},
{"data":{"name":"ar"},"mark":{"type":"rule","color":"#f64a4a","strokeWidth":8,"strokeCap":"round","clip":false},
 "encoding":{
  "x":{"field":"i1","type":"quantitative","axis":null},
  "x2":{"field":"i2"},
  "y":{"field":"p1","type":"quantitative","axis":null},
  "y2":{"field":"p2"}}},
{"data":{"values":[{"i":361.76,"p":4384.0}]},"mark":{"type":"point","shape":"triangle-up","filled":true,"opacity":1,"size":1000,"angle":35,"color":"#f64a4a","clip":false},
 "encoding":{"x":{"field":"i","type":"quantitative","axis":null},"y":{"field":"p","type":"quantitative","axis":null}}},
{"data":{"values":[{"i":380.26,"p":4342.8}]},"mark":{"type":"point","shape":"triangle-up","filled":true,"opacity":1,"size":1000,"angle":33,"color":"#f64a4a","clip":false},
 "encoding":{"x":{"field":"i","type":"quantitative","axis":null},"y":{"field":"p","type":"quantitative","axis":null}}},
{"data":{"values":[{"i":393.21,"p":4345.9}]},"mark":{"type":"point","shape":"triangle-up","filled":true,"opacity":1,"size":1000,"angle":-19,"color":"#f64a4a","clip":false},
 "encoding":{"x":{"field":"i","type":"quantitative","axis":null},"y":{"field":"p","type":"quantitative","axis":null}}},
{"data":{"values":[{"i":404.96,"p":4374.1}]},"mark":{"type":"point","shape":"triangle-up","filled":true,"opacity":1,"size":1000,"angle":-28,"color":"#f64a4a","clip":false},
 "encoding":{"x":{"field":"i","type":"quantitative","axis":null},"y":{"field":"p","type":"quantitative","axis":null}}}
]
}
